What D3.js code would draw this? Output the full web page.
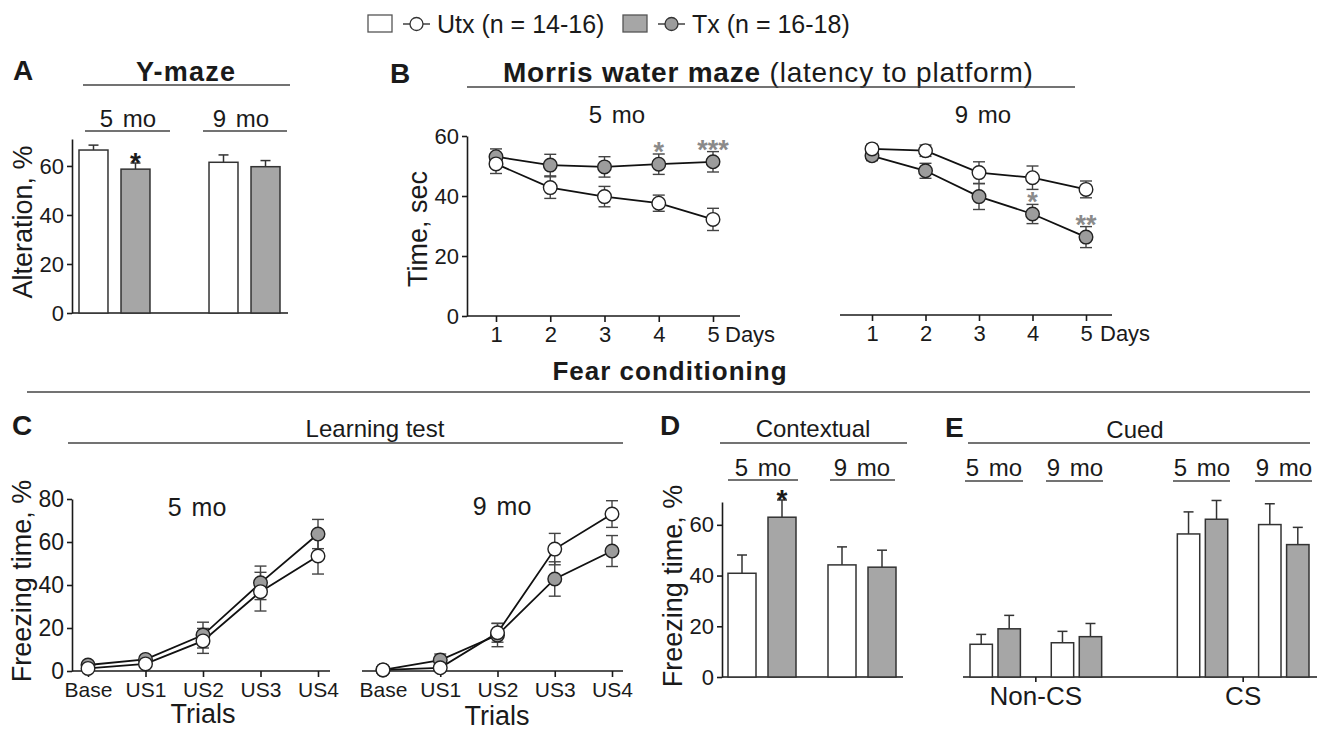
<!DOCTYPE html>
<html>
<head>
<meta charset="utf-8">
<script src="https://cdn.jsdelivr.net/npm/d3@7"></script>
<style>
  body { margin: 0; background: #fff; }
  text { font-family: "Liberation Sans", Arial, sans-serif; }
</style>
</head>
<body>
<script>
// ---- data ----
const groups = ["Utx", "Tx"];
const legendText = ["Utx (n = 14-16)", "Tx (n = 16-18)"];
const ages = ["5 mo", "9 mo"];

// A: Y-maze alternation, %
const ymazeUtx = [66.5, 61.5];
const ymazeUtxErr = [2.0, 3.0];
const ymazeTx = [58.7, 59.7];
const ymazeTxErr = [2.5, 2.5];
const ymazeStars = ["*", ""];

// B: Morris water maze latency, sec
const days = [1, 2, 3, 4, 5];
const mwm5Utx = [50.7, 42.8, 39.8, 37.6, 32.2];
const mwm5UtxErr = [3.2, 3.6, 3.4, 2.7, 3.7];
const mwm5Tx = [53.1, 50.3, 49.7, 50.6, 51.4];
const mwm5TxErr = [2.6, 3.6, 3.4, 3.4, 3.4];
const mwm5Stars = ["", "", "", "*", "***"];
const mwm9Utx = [55.7, 55.1, 47.8, 46.1, 42.2];
const mwm9UtxErr = [1.5, 1.9, 3.6, 3.9, 2.8];
const mwm9Tx = [53.4, 48.4, 39.8, 34.0, 26.3];
const mwm9TxErr = [1.6, 2.5, 4.3, 3.2, 3.5];
const mwm9Stars = ["", "", "", "*", "**"];

// C: fear conditioning learning test, freezing %
const trials = ["Base", "US1", "US2", "US3", "US4"];
const fc5Utx = [1.2, 3.3, 14.0, 36.9, 53.5];
const fc5UtxErr = [1.0, 1.2, 5.8, 9.0, 8.4];
const fc5Tx = [2.8, 5.4, 16.7, 41.0, 63.7];
const fc5TxErr = [1.0, 1.0, 6.0, 7.8, 6.8];
const fc9Utx = [0.5, 1.5, 17.8, 56.7, 73.0];
const fc9UtxErr = [0.5, 1.0, 4.4, 7.3, 6.2];
const fc9Tx = [0.5, 5.1, 16.7, 42.8, 55.8];
const fc9TxErr = [0.5, 2.8, 5.4, 8.0, 7.2];

// D: contextual, freezing %
const ctxUtx = [40.9, 44.2];
const ctxUtxErr = [7.2, 7.1];
const ctxTx = [63.0, 43.3];
const ctxTxErr = [6.8, 6.7];
const ctxStars = ["*", ""];

// E: cued, freezing %
const cueConds = ["Non-CS", "CS"];
const cuedNonCsUtx = [12.9, 13.5];
const cuedNonCsUtxErr = [3.9, 4.5];
const cuedNonCsTx = [19.0, 15.9];
const cuedNonCsTxErr = [5.3, 5.2];
const cuedCsUtx = [56.4, 60.1];
const cuedCsUtxErr = [8.7, 8.2];
const cuedCsTx = [62.2, 52.2];
const cuedCsTxErr = [7.4, 6.8];

// ---- style ----
const ink = "#1a1a1a";
const edge = "#333";
const barGray = "#a6a6a6";
const dotGray = "#9c9c9c";
const starGray = "#8a8a8a";
const fillOf = g => g === "Tx" ? barGray : "#fff";

const svg = d3.select("body").append("svg")
  .attr("width", 1329).attr("height", 730);

function txt(x, y, s, size, o = {}) {
  return svg.append("text")
    .attr("x", x).attr("y", y)
    .attr("font-size", size)
    .attr("text-anchor", o.anchor || "middle")
    .attr("font-weight", o.bold ? "bold" : null)
    .attr("letter-spacing", o.ls || null)
    .attr("word-spacing", o.ws || null)
    .attr("fill", o.fill || ink)
    .text(s);
}
function rule(x1, x2, y, w = 1.4) {
  svg.append("line")
    .attr("x1", x1).attr("x2", x2).attr("y1", y).attr("y2", y)
    .attr("stroke", "#444").attr("stroke-width", w);
}
function yTitle(x, y, s) {
  svg.append("text")
    .attr("transform", `translate(${x},${y}) rotate(-90)`)
    .attr("text-anchor", "middle").attr("font-size", 27).attr("fill", ink)
    .text(s);
}
function styleAxis(g, size) {
  g.attr("font-family", '"Liberation Sans", Arial, sans-serif').attr("font-size", size);
  g.selectAll("path, line").attr("stroke", ink).attr("stroke-width", 1.6);
  g.selectAll("text").attr("fill", ink);
}
function leftAxis(y, x, ticks, size) {
  const g = svg.append("g").attr("transform", `translate(${x},0)`)
    .call(d3.axisLeft(y).tickValues(ticks).tickSize(5).tickSizeOuter(0).tickPadding(3));
  styleAxis(g, size);
}
function bottomTicks(x, y0, size, pad) {
  const g = svg.append("g").attr("transform", `translate(0,${y0})`)
    .call(d3.axisBottom(x).tickSize(6).tickPadding(pad));
  g.select(".domain").remove();
  styleAxis(g, size);
}

// bars with upward error bars
function drawBars(rows, bw, y, starFill) {
  const g = svg.append("g");
  rows.forEach(r => {
    const cx = r.bx + bw / 2, top = y(r.v + r.e);
    g.append("line").attr("x1", cx).attr("x2", cx).attr("y1", y(r.v)).attr("y2", top)
      .attr("stroke", edge).attr("stroke-width", 1.5);
    g.append("line").attr("x1", cx - 5).attr("x2", cx + 5).attr("y1", top).attr("y2", top)
      .attr("stroke", edge).attr("stroke-width", 1.5);
  });
  g.selectAll("rect").data(rows).join("rect")
    .attr("x", d => d.bx).attr("y", d => y(d.v))
    .attr("width", bw).attr("height", d => y(0) - y(d.v))
    .attr("fill", d => fillOf(d.group))
    .attr("stroke", edge).attr("stroke-width", 1.5);
  rows.filter(r => r.star).forEach(r => {
    txt(r.bx + bw / 2, y(r.v + r.e) + 9, r.star, 28, { bold: true, fill: starFill });
  });
}

// lines with circles and two-sided error bars; Tx drawn first
function drawLines(x, y, keys, series, stars, starFill) {
  const g = svg.append("g");
  series.forEach(s => {
    keys.forEach((k, i) => {
      const cx = x(k), lo = y(s.v[i] - s.e[i]), hi = y(s.v[i] + s.e[i]);
      g.append("line").attr("x1", cx).attr("x2", cx).attr("y1", lo).attr("y2", hi)
        .attr("stroke", "#444").attr("stroke-width", 1.4);
      [lo, hi].forEach(yy => g.append("line")
        .attr("x1", cx - 6).attr("x2", cx + 6).attr("y1", yy).attr("y2", yy)
        .attr("stroke", "#444").attr("stroke-width", 1.4));
    });
  });
  const line = d3.line().x(d => x(d[0])).y(d => y(d[1]));
  series.forEach(s => {
    g.append("path").datum(keys.map((k, i) => [k, s.v[i]]))
      .attr("d", line).attr("fill", "none").attr("stroke", "#111").attr("stroke-width", 1.8);
  });
  series.forEach(s => {
    g.selectAll(null).data(keys.map((k, i) => [k, s.v[i]])).join("circle")
      .attr("cx", d => x(d[0])).attr("cy", d => y(d[1])).attr("r", 6.8)
      .attr("fill", s.group === "Tx" ? dotGray : "#fff")
      .attr("stroke", "#222").attr("stroke-width", 1.4);
  });
  if (stars) {
    const tx = series.find(s => s.group === "Tx");
    keys.forEach((k, i) => {
      if (stars[i]) txt(x(k), y(tx.v[i] + tx.e[i]) + 7, stars[i], 27, { bold: true, fill: starFill });
    });
  }
}

// ---- legend ----
const legendX = [368, 623];
groups.forEach((gname, i) => {
  const lx = legendX[i];
  svg.append("rect").attr("x", lx).attr("y", 15).attr("width", 24).attr("height", 17)
    .attr("fill", fillOf(gname)).attr("stroke", "#555").attr("stroke-width", 1.3);
  svg.append("line").attr("x1", lx + 35).attr("x2", lx + 62).attr("y1", 24).attr("y2", 24)
    .attr("stroke", "#333").attr("stroke-width", 1.4);
  svg.append("circle").attr("cx", lx + 48.5).attr("cy", 24).attr("r", 6.5)
    .attr("fill", gname === "Tx" ? dotGray : "#fff").attr("stroke", "#333").attr("stroke-width", 1.3);
  txt(lx + 69, 33, legendText[i], 25, { anchor: "start" });
});

// ---- A: Y-maze ----
txt(13, 80, "A", 28, { anchor: "start", bold: true });
txt(186, 81, "Y-maze", 27, { bold: true, ls: 1.2 });
rule(83, 290, 85);
txt(128, 127, "5 mo", 24, { ws: 3 });
txt(241, 127, "9 mo", 24, { ws: 3 });
rule(85, 170, 131);
rule(203, 287, 131);

const yA = d3.scaleLinear().domain([0, 71]).range([313, 139]);
const xA0 = d3.scaleBand().domain(ages).range([79, 280]).paddingInner(0.454);
const xA1 = d3.scaleBand().domain(groups).range([0, xA0.bandwidth()]).paddingInner(0.31);
leftAxis(yA, 72, [0, 20, 40, 60], 22);
svg.append("line").attr("x1", 72).attr("x2", 288).attr("y1", yA(0)).attr("y2", yA(0))
  .attr("stroke", ink).attr("stroke-width", 1.6);
drawBars(ages.flatMap((a, i) => [
  { group: "Utx", v: ymazeUtx[i], e: ymazeUtxErr[i], bx: xA0(a) + xA1("Utx") },
  { group: "Tx", v: ymazeTx[i], e: ymazeTxErr[i], bx: xA0(a) + xA1("Tx"), star: ymazeStars[i] }
]), xA1.bandwidth(), yA, ink);
yTitle(32, 222, "Alteration, %");

// ---- B: Morris water maze ----
txt(390, 83, "B", 28, { anchor: "start", bold: true });
const titleB = svg.append("text").attr("x", 503).attr("y", 82).attr("font-size", 28)
  .attr("fill", ink).attr("letter-spacing", 0.8);
titleB.append("tspan").attr("font-weight", "bold").text("Morris water maze");
titleB.append("tspan").text(" (latency to platform)");
rule(467, 1075, 87);
txt(617, 123, "5 mo", 24, { ws: 3 });
txt(983, 123, "9 mo", 24, { ws: 3 });

const yB = d3.scaleLinear().domain([0, 60]).range([316, 136]);
const xB5 = d3.scalePoint().domain(days).range([496, 713]);
const xB9 = d3.scalePoint().domain(days).range([872, 1086]);
leftAxis(yB, 467, [0, 20, 40, 60], 22);
svg.append("line").attr("x1", 467).attr("x2", 740).attr("y1", yB(0)).attr("y2", yB(0))
  .attr("stroke", ink).attr("stroke-width", 1.6);
svg.append("line").attr("x1", 840).attr("x2", 1112).attr("y1", yB(0) - 1).attr("y2", yB(0) - 1)
  .attr("stroke", ink).attr("stroke-width", 1.6);
bottomTicks(xB5, yB(0), 22, 4);
bottomTicks(xB9, yB(0) - 1, 22, 4);
txt(xB5(5) + 12, 342, "Days", 22, { anchor: "start" });
txt(xB9(5) + 14, 341, "Days", 22, { anchor: "start" });
drawLines(xB5, yB, days, [
  { group: "Tx", v: mwm5Tx, e: mwm5TxErr },
  { group: "Utx", v: mwm5Utx, e: mwm5UtxErr }
], mwm5Stars, starGray);
drawLines(xB9, yB, days, [
  { group: "Tx", v: mwm9Tx, e: mwm9TxErr },
  { group: "Utx", v: mwm9Utx, e: mwm9UtxErr }
], mwm9Stars, starGray);
yTitle(427, 229, "Time, sec");

// ---- Fear conditioning header ----
txt(670, 380, "Fear conditioning", 26, { bold: true, ls: 1 });
rule(27, 1310, 392);

// ---- C: learning test ----
txt(12, 435, "C", 28, { anchor: "start", bold: true });
txt(375, 437, "Learning test", 24);
rule(68, 623, 443);
txt(197, 516, "5 mo", 25, { ws: 3 });
txt(502, 515, "9 mo", 25, { ws: 3 });

const yC = d3.scaleLinear().domain([0, 80]).range([671, 499]);
const xC5 = d3.scalePoint().domain(trials).range([88, 318]);
const xC9 = d3.scalePoint().domain(trials).range([383, 612]);
leftAxis(yC, 72, [0, 20, 40, 60, 80], 23);
svg.append("line").attr("x1", 72).attr("x2", 330).attr("y1", yC(0)).attr("y2", yC(0))
  .attr("stroke", ink).attr("stroke-width", 1.6);
svg.append("line").attr("x1", 362).attr("x2", 623).attr("y1", yC(0)).attr("y2", yC(0))
  .attr("stroke", ink).attr("stroke-width", 1.6);
bottomTicks(xC5, yC(0), 21, 5);
bottomTicks(xC9, yC(0), 21, 5);
txt(203, 723, "Trials", 27);
txt(497, 725, "Trials", 27);
drawLines(xC5, yC, trials, [
  { group: "Tx", v: fc5Tx, e: fc5TxErr },
  { group: "Utx", v: fc5Utx, e: fc5UtxErr }
]);
drawLines(xC9, yC, trials, [
  { group: "Tx", v: fc9Tx, e: fc9TxErr },
  { group: "Utx", v: fc9Utx, e: fc9UtxErr }
]);
yTitle(31, 581, "Freezing time, %");

// ---- D: contextual ----
txt(660, 435, "D", 28, { anchor: "start", bold: true });
txt(813, 437, "Contextual", 24);
rule(720, 907, 443);
txt(763, 476, "5 mo", 24, { ws: 3 });
txt(862, 476, "9 mo", 24, { ws: 3 });
rule(728, 798, 480);
rule(830, 895, 480);

const yD = d3.scaleLinear().domain([0, 69]).range([677, 502]);
const xD0 = d3.scaleBand().domain(ages).range([728, 896]).paddingInner(0.32);
const xD1 = d3.scaleBand().domain(groups).range([0, xD0.bandwidth()]).paddingInner(0.3);
leftAxis(yD, 722, [0, 20, 40, 60], 22);
svg.append("line").attr("x1", 722).attr("x2", 903).attr("y1", yD(0)).attr("y2", yD(0))
  .attr("stroke", ink).attr("stroke-width", 1.6);
drawBars(ages.flatMap((a, i) => [
  { group: "Utx", v: ctxUtx[i], e: ctxUtxErr[i], bx: xD0(a) + xD1("Utx") },
  { group: "Tx", v: ctxTx[i], e: ctxTxErr[i], bx: xD0(a) + xD1("Tx"), star: ctxStars[i] }
]), xD1.bandwidth(), yD, ink);
yTitle(682, 586, "Freezing time, %");

// ---- E: cued ----
txt(945, 437, "E", 28, { anchor: "start", bold: true });
txt(1135, 438, "Cued", 24);
rule(968, 1310, 443);
const eSubCenters = [994, 1075, 1202, 1284];
const eSubRules = [[965, 1023], [1046, 1103], [1173, 1230], [1255, 1312]];
eSubCenters.forEach((cx, i) => {
  txt(cx, 476, ages[i % 2], 24, { ws: 3 });
  rule(eSubRules[i][0], eSubRules[i][1], 481);
});

const yE = yD;
const xE0 = d3.scaleBand().domain(cueConds).range([970, 1309]).paddingInner(0.365);
const xE1 = d3.scaleBand().domain(ages).range([0, xE0.bandwidth()]).paddingInner(0.38);
const xE2 = d3.scaleBand().domain(groups).range([0, xE1.bandwidth()]).paddingInner(0.2);
svg.append("line").attr("x1", 963).attr("x2", 1317).attr("y1", yE(0)).attr("y2", yE(0))
  .attr("stroke", ink).attr("stroke-width", 1.6);
{
  const g = svg.append("g").attr("transform", `translate(0,${yE(0)})`)
    .call(d3.axisBottom(xE0).tickSize(5).tickPadding(5));
  g.select(".domain").remove();
  styleAxis(g, 26);
}
const cuedUtx = [cuedNonCsUtx, cuedCsUtx], cuedUtxErr = [cuedNonCsUtxErr, cuedCsUtxErr];
const cuedTx = [cuedNonCsTx, cuedCsTx], cuedTxErr = [cuedNonCsTxErr, cuedCsTxErr];
drawBars(cueConds.flatMap((c, ci) => ages.flatMap((a, i) => [
  { group: "Utx", v: cuedUtx[ci][i], e: cuedUtxErr[ci][i], bx: xE0(c) + xE1(a) + xE2("Utx") },
  { group: "Tx", v: cuedTx[ci][i], e: cuedTxErr[ci][i], bx: xE0(c) + xE1(a) + xE2("Tx") }
])), xE2.bandwidth(), yE, ink);
</script>
</body>
</html>
